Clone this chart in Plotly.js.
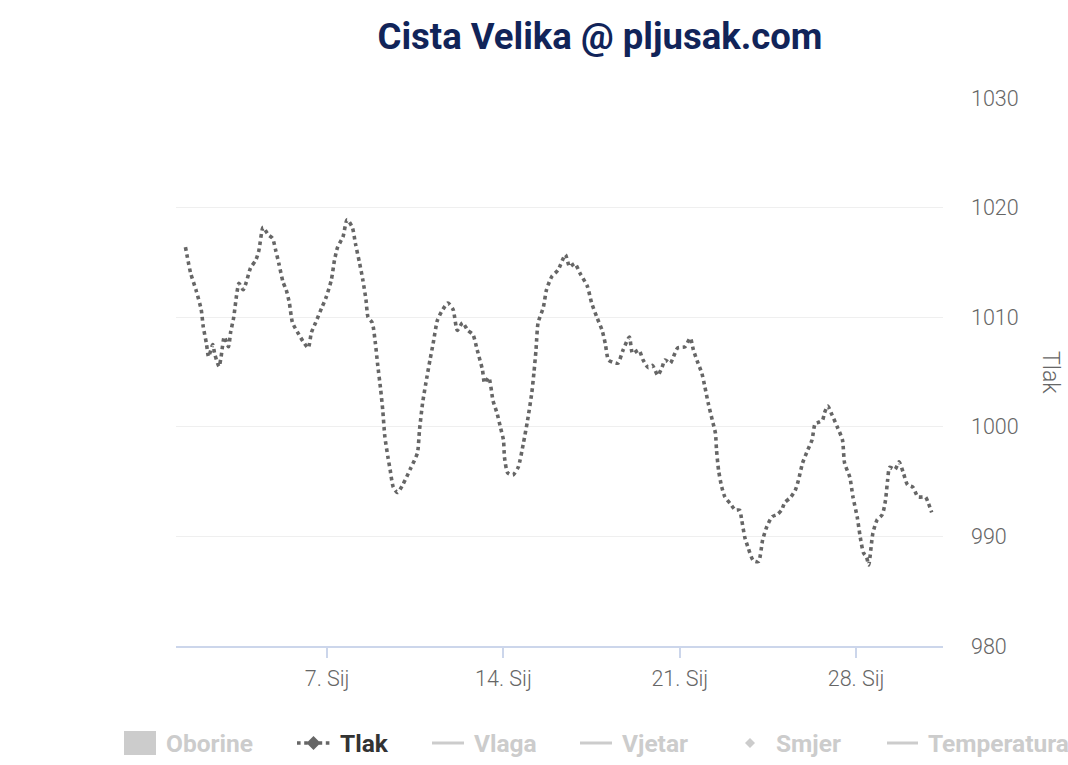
<!DOCTYPE html>
<html><head><meta charset="utf-8">
<script src="https://cdn.plot.ly/plotly-3.0.1.min.js"></script>
<style>html,body{margin:0;padding:0;background:#fff}#chart{width:1068px;height:765px}</style>
</head><body><div id="chart"></div>
<script>
const times = [
'2021-01-01 09:00','2021-01-01 14:00','2021-01-01 19:00','2021-01-02 00:00','2021-01-02 02:00','2021-01-02 05:00','2021-01-02 07:00','2021-01-02 11:00','2021-01-02 13:00','2021-01-02 17:00',
'2021-01-02 19:00','2021-01-02 22:00','2021-01-03 02:00','2021-01-03 04:00','2021-01-03 07:00','2021-01-03 10:00','2021-01-03 12:00','2021-01-03 16:00','2021-01-03 19:00','2021-01-03 23:00',
'2021-01-04 04:00','2021-01-04 07:00','2021-01-04 11:00','2021-01-04 16:00','2021-01-04 20:00','2021-01-04 23:00','2021-01-05 02:00','2021-01-05 06:00','2021-01-05 09:00','2021-01-05 12:00',
'2021-01-05 15:00','2021-01-05 20:00','2021-01-06 01:00','2021-01-06 06:00','2021-01-06 09:00','2021-01-06 13:00','2021-01-06 19:00','2021-01-06 23:00','2021-01-07 04:00','2021-01-07 07:00',
'2021-01-07 10:00','2021-01-07 15:00','2021-01-07 19:00','2021-01-08 00:00','2021-01-08 03:00','2021-01-08 07:00','2021-01-08 10:00','2021-01-08 13:00','2021-01-08 15:00','2021-01-08 19:00',
'2021-01-08 22:00','2021-01-09 00:00','2021-01-09 03:00','2021-01-09 05:00','2021-01-09 07:00','2021-01-09 10:00','2021-01-09 12:00','2021-01-09 15:00','2021-01-09 19:00','2021-01-10 00:00',
'2021-01-10 07:00','2021-01-10 14:00','2021-01-10 16:00','2021-01-10 19:00','2021-01-10 23:00','2021-01-11 02:00','2021-01-11 05:00','2021-01-11 09:00','2021-01-11 13:00','2021-01-11 19:00',
'2021-01-12 00:00','2021-01-12 04:00','2021-01-12 09:00','2021-01-12 14:00','2021-01-12 19:00','2021-01-12 23:00','2021-01-13 04:00','2021-01-13 06:00','2021-01-13 10:00','2021-01-13 14:00',
'2021-01-13 18:00','2021-01-13 21:00','2021-01-14 00:00','2021-01-14 01:00','2021-01-14 04:00','2021-01-14 09:00','2021-01-14 14:00','2021-01-14 19:00','2021-01-14 23:00','2021-01-15 03:00',
'2021-01-15 05:00','2021-01-15 07:00','2021-01-15 09:00','2021-01-15 14:00','2021-01-15 17:00','2021-01-15 22:00','2021-01-16 04:00','2021-01-16 11:00','2021-01-16 15:00','2021-01-16 20:00',
'2021-01-17 01:00','2021-01-17 08:00','2021-01-17 12:00','2021-01-17 17:00','2021-01-17 22:00','2021-01-18 01:00','2021-01-18 04:00','2021-01-18 08:00','2021-01-18 13:00','2021-01-18 18:00',
'2021-01-19 00:00','2021-01-19 03:00','2021-01-19 09:00','2021-01-19 13:00','2021-01-19 18:00','2021-01-19 22:00','2021-01-20 03:00','2021-01-20 07:00','2021-01-20 10:00','2021-01-20 15:00',
'2021-01-20 18:00','2021-01-20 22:00','2021-01-21 05:00','2021-01-21 10:00','2021-01-21 13:00','2021-01-21 17:00','2021-01-21 21:00','2021-01-22 00:00','2021-01-22 03:00','2021-01-22 07:00',
'2021-01-22 10:00','2021-01-22 11:00','2021-01-22 13:00','2021-01-22 16:00','2021-01-22 19:00','2021-01-23 00:00','2021-01-23 05:00','2021-01-23 09:00','2021-01-23 11:00','2021-01-23 14:00',
'2021-01-23 17:00','2021-01-23 22:00','2021-01-24 03:00','2021-01-24 07:00','2021-01-24 11:00','2021-01-24 16:00','2021-01-24 21:00','2021-01-25 01:00','2021-01-25 04:00','2021-01-25 09:00',
'2021-01-25 14:00','2021-01-25 17:00','2021-01-25 21:00','2021-01-26 02:00','2021-01-26 06:00','2021-01-26 09:00','2021-01-26 12:00','2021-01-26 16:00','2021-01-26 18:00','2021-01-26 21:00',
'2021-01-27 01:00','2021-01-27 06:00','2021-01-27 11:00','2021-01-27 13:00','2021-01-27 18:00','2021-01-27 21:00','2021-01-28 01:00','2021-01-28 04:00','2021-01-28 07:00','2021-01-28 10:00',
'2021-01-28 12:00','2021-01-28 16:00','2021-01-28 20:00','2021-01-29 01:00','2021-01-29 04:00','2021-01-29 06:00','2021-01-29 08:00','2021-01-29 13:00','2021-01-29 17:00','2021-01-29 21:00',
'2021-01-30 01:00','2021-01-30 06:00','2021-01-30 11:00','2021-01-30 18:00','2021-01-30 21:00','2021-01-31 00:00'
];
const tlak = [
1016.4,1014.0,1012.5,1010.7,1009.1,1007.6,1006.4,1007.5,1006.6,1005.5,
1006.4,1008.2,1007.3,1008.6,1010.0,1012.2,1013.1,1012.5,1013.2,1014.5,
1015.2,1016.1,1018.2,1017.5,1017.2,1016.1,1014.9,1013.2,1012.5,1011.3,
1009.5,1008.6,1007.8,1007.2,1008.6,1009.5,1010.9,1011.8,1013.4,1015.2,
1016.4,1017.3,1018.9,1018.2,1016.7,1014.9,1013.4,1011.6,1010.0,1009.5,
1007.6,1005.8,1003.4,1001.5,999.1,997.2,996.1,994.5,994.0,994.7,
996.1,997.6,999.7,1002.2,1004.5,1006.1,1007.6,1009.7,1010.5,1011.3,
1010.7,1008.8,1009.5,1008.8,1008.4,1007.0,1005.2,1004.0,1004.5,1002.4,
1001.2,1000.0,998.8,997.2,995.8,995.6,996.3,998.5,1000.6,1003.1,
1004.9,1007.0,1009.5,1010.9,1012.5,1013.7,1014.3,1015.7,1014.6,1014.9,
1014.0,1012.8,1011.3,1010.0,1008.8,1007.6,1006.1,1005.9,1005.8,1007.0,
1008.2,1006.7,1007.0,1006.1,1005.4,1005.6,1004.7,1005.4,1006.1,1005.8,
1006.4,1007.2,1007.3,1008.1,1007.0,1005.9,1004.9,1003.6,1002.2,1000.6,
999.4,997.9,996.0,994.5,993.6,993.0,992.4,992.4,991.5,989.9,
989.0,987.8,987.7,989.7,990.9,991.8,992.0,992.4,993.1,993.5,
994.2,995.1,996.7,997.9,998.8,1000.3,1000.4,1000.6,1001.3,1001.9,
1001.1,1000.0,998.8,996.7,995.4,993.6,991.8,989.9,988.5,988.1,
987.4,990.3,991.5,992.0,993.3,995.1,996.3,996.1,996.8,995.8,
994.7,994.5,993.6,993.6,993.0,992.2
];
const tickDates = ['2021-01-07','2021-01-14','2021-01-21','2021-01-28'];
const tickLabels = ['7. Sij','14. Sij','21. Sij','28. Sij'];
const legendLabels = ['Oborine','Tlak','Vlaga','Vjetar','Smjer','Temperatura'];

const W = 1068, H = 765, M = {l:176, r:125, t:98, b:119};
const pw = W - M.l - M.r, ph = H - M.t - M.b;
const PX = x => (x - M.l) / pw;
const PY = y => (H - M.b - y) / ph;

const FONT = 'Roboto, "Open Sans", sans-serif';
const LINE = '#666666', DIM = '#cccccc';

const trace = {
  x: times, y: tlak, type: 'scatter', mode: 'lines', name: 'Tlak',
  line: {color: LINE, width: 3.6, dash: 'dot', shape: 'spline', smoothing: 0.6},
  showlegend: false, hoverinfo: 'x+y'
};

// custom legend (Highcharts-style, hidden series greyed)
const legendKinds = ['rect','dotdiamond','line','line','diamond','line'];
const legendSym = [[124,156],[297,330],[432,464],[580,612],[734,766],[887,918]];
const legendTextX = [166,340,474,622,776,928];
const LY = 743;
const shapes = [], annotations = [];
legendLabels.forEach((lab, i) => {
  const k = legendKinds[i], [a, b] = legendSym[i];
  const active = (lab === 'Tlak');
  if (k === 'rect') {
    shapes.push({type:'rect', xref:'paper', yref:'paper', x0:PX(a), x1:PX(b), y0:PY(LY+12), y1:PY(LY-12), fillcolor:DIM, line:{width:0}});
  } else if (k === 'line') {
    shapes.push({type:'line', xref:'paper', yref:'paper', x0:PX(a), x1:PX(b), y0:PY(LY), y1:PY(LY), line:{color:DIM, width:3}});
  } else if (k === 'dotdiamond') {
    shapes.push({type:'line', xref:'paper', yref:'paper', x0:PX(a), x1:PX(b), y0:PY(LY), y1:PY(LY), line:{color:LINE, width:3.6, dash:'dot'}});
    const c = (a + b) / 2, r = 7;
    shapes.push({type:'path', xref:'paper', yref:'paper',
      path:`M ${PX(c)} ${PY(LY-r)} L ${PX(c+r)} ${PY(LY)} L ${PX(c)} ${PY(LY+r)} L ${PX(c-r)} ${PY(LY)} Z`,
      fillcolor:LINE, line:{width:0}});
  } else if (k === 'diamond') {
    const c = (a + b) / 2, r = 5;
    shapes.push({type:'path', xref:'paper', yref:'paper',
      path:`M ${PX(c)} ${PY(LY-r)} L ${PX(c+r)} ${PY(LY)} L ${PX(c)} ${PY(LY+r)} L ${PX(c-r)} ${PY(LY)} Z`,
      fillcolor:DIM, line:{width:0}});
  }
  annotations.push({xref:'paper', yref:'paper', x:PX(legendTextX[i]-2), y:PY(LY), xanchor:'left', yanchor:'middle',
    text:lab, showarrow:false, font:{family:FONT, size:24.5, weight:700, color: active ? '#333333' : DIM}});
});
// y-axis title on the right
annotations.push({xref:'paper', yref:'paper', x:PX(1051), y:0.5, xanchor:'center', yanchor:'middle',
  text:'Tlak', textangle:90, showarrow:false, font:{family:FONT, size:23, weight:300, color:'#666666'}});

const layout = {
  width: W, height: H,
  margin: M,
  paper_bgcolor: '#ffffff', plot_bgcolor: '#ffffff',
  font: {family: FONT, color: '#666666'},
  showlegend: false,
  title: {text: 'Cista Velika @ pljusak.com', x: 600/W, xref: 'container', xanchor: 'center',
          y: 1 - 36/H, yref: 'container', yanchor: 'middle',
          font: {family: FONT, size: 36.5, weight: 700, color: '#112459'}},
  xaxis: {
    type: 'date', range: ['2021-01-01 00:00', '2021-01-31 10:48'],
    tickvals: tickDates, ticktext: tickLabels,
    showgrid: false, zeroline: false,
    showline: true, linecolor: '#ccd6eb', linewidth: 2,
    ticks: 'outside', ticklen: 10, tickwidth: 2, tickcolor: '#ccd6eb',
    ticklabelstandoff: 2,
    tickfont: {family: FONT, size: 21.5, weight: 300, color: '#666666'}
  },
  yaxis: {
    side: 'right', range: [980, 1030], dtick: 10, tick0: 980,
    showgrid: true, gridcolor: '#efefef', gridwidth: 1,
    zeroline: false, showline: false, ticks: '',
    ticklabelstandoff: 27,
    tickfont: {family: FONT, size: 21.5, weight: 300, color: '#666666'}
  },
  shapes: shapes,
  annotations: annotations
};

Plotly.newPlot('chart', [trace], layout, {displayModeBar: false, staticPlot: true});
</script>
</body></html>
